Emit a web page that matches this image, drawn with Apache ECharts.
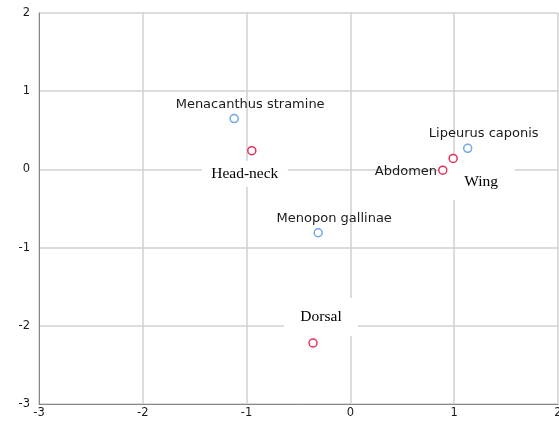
<!DOCTYPE html>
<html>
<head>
<meta charset="utf-8">
<script src="https://cdn.jsdelivr.net/npm/echarts@6/dist/echarts.min.js"></script>
<style>
  html, body { margin: 0; padding: 0; background: #fff; }
  #chart { width: 559px; height: 423px; }
</style>
</head>
<body>
<div id="chart"></div>
<script>
// Row points (species) and column points (body regions) of the correspondence map
const speciesNames = ['Menacanthus stramine', 'Lipeurus caponis', 'Menopon gallinae'];
const speciesX = [-1.12, 1.13, -0.31];
const speciesY = [0.65, 0.27, -0.81];

const regionNames = ['Head-neck', 'Wing', 'Abdomen', 'Dorsal'];
const regionX = [-0.95, 0.99, 0.89, -0.36];
const regionY = [0.24, 0.14, -0.01, -2.22];

const xTicks = [-3, -2, -1, 0, 1, 2];
const yTicks = [-3, -2, -1, 0, 1, 2];

const sansLabel = { fontFamily: 'DejaVu Sans, sans-serif', fontSize: 13, color: '#1a1a1a' };
const serifBox = {
  fontFamily: 'Liberation Serif, Times New Roman, serif', fontSize: 15.5, color: '#000',
  backgroundColor: '#fff', align: 'center', verticalAlign: 'middle'
};

// per-region label placement
const regionLabel = {
  'Head-neck': Object.assign({}, serifBox, { position: 'inside', offset: [-7, 23], width: 86, height: 26 }),
  'Wing': Object.assign({}, serifBox, { position: 'inside', offset: [28, 23], width: 67, height: 37 }),
  'Abdomen': Object.assign({}, sansLabel, { position: 'left', distance: 1, offset: [0, 1] }),
  'Dorsal': Object.assign({}, serifBox, { position: 'inside', offset: [8, -26], width: 74, height: 38 })
};

const speciesData = speciesNames.map((n, i) => ({ name: n, value: [speciesX[i], speciesY[i]] }));
const regionData = regionNames.map((n, i) => ({
  name: n, value: [regionX[i], regionY[i]],
  label: Object.assign({ show: true, formatter: '{b}' }, regionLabel[n])
}));

const chart = echarts.init(document.getElementById('chart'), null, { renderer: 'canvas' });
const axisLabelStyle = { color: '#1a1a1a', fontFamily: 'DejaVu Sans, sans-serif', fontSize: 11.5 };
chart.setOption({
  animation: false,
  grid: { left: 39, right: 1, top: 13, bottom: 19, containLabel: false, outerBoundsMode: 'none' },
  xAxis: {
    type: 'value', min: xTicks[0], max: xTicks[xTicks.length - 1], interval: 1,
    axisLine: { show: true, onZero: false, lineStyle: { color: '#888', width: 1 } },
    axisTick: { show: false },
    axisLabel: Object.assign({ margin: 3 }, axisLabelStyle),
    splitLine: { show: true, lineStyle: { color: '#d0d0d0', width: 1.5 } }
  },
  yAxis: {
    type: 'value', min: yTicks[0], max: yTicks[yTicks.length - 1], interval: 1,
    axisLine: { show: true, onZero: false, lineStyle: { color: '#888', width: 1 } },
    axisTick: { show: false },
    axisLabel: Object.assign({ margin: 9 }, axisLabelStyle),
    splitLine: { show: true, lineStyle: { color: '#d0d0d0', width: 1.5 } }
  },
  series: [
    {
      type: 'scatter', name: 'Species', data: speciesData,
      symbol: 'circle', symbolSize: 8,
      itemStyle: { color: '#fff', borderColor: '#6fa6e6', borderWidth: 1.5, opacity: 1 },
      label: Object.assign({ show: true, formatter: '{b}', position: 'top', distance: 3, offset: [16, 0] }, sansLabel),
      z: 3
    },
    {
      type: 'scatter', name: 'Region', data: regionData,
      symbol: 'circle', symbolSize: 8,
      itemStyle: { color: '#fff', borderColor: '#e0315c', borderWidth: 1.5, opacity: 1 },
      z: 2
    }
  ]
});
</script>
</body>
</html>
